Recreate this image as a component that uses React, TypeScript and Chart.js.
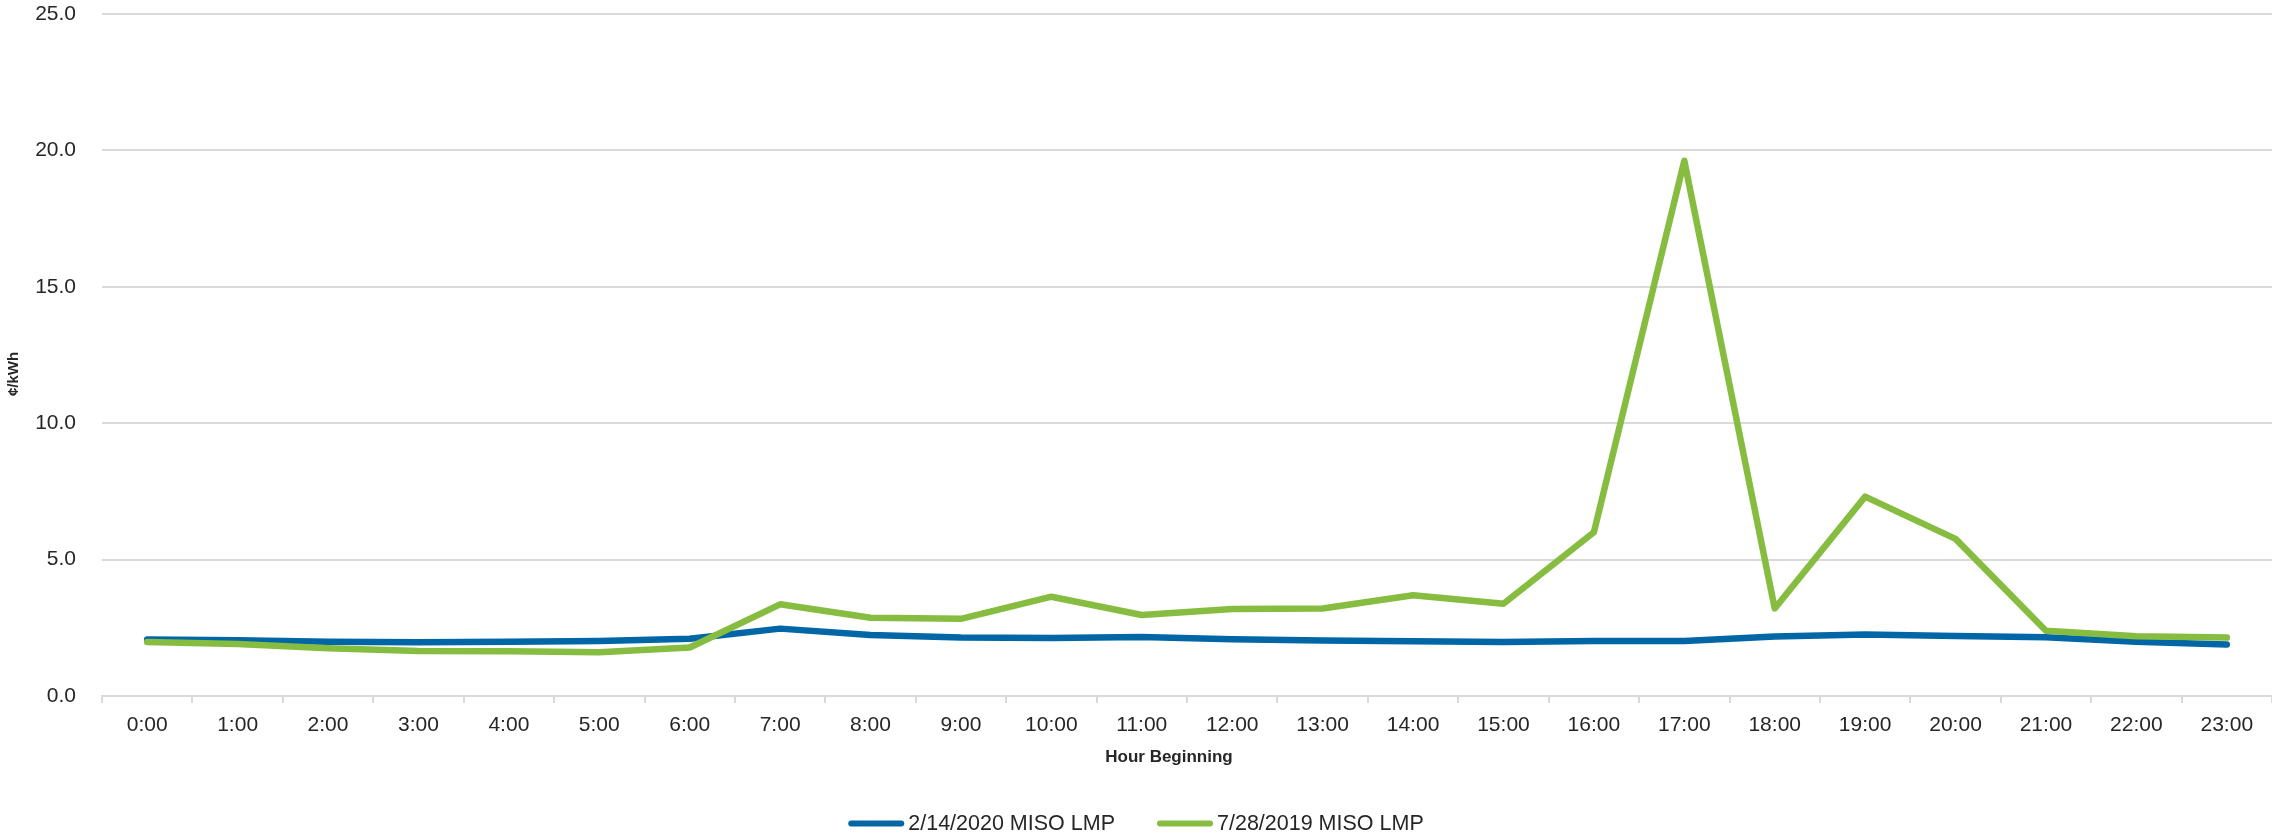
import React, { useEffect, useRef } from "react";
import { Chart, registerables } from "chart.js";

Chart.register(...registerables);

// Hour-beginning categories
const hours = [
  "0:00", "1:00", "2:00", "3:00", "4:00", "5:00", "6:00", "7:00",
  "8:00", "9:00", "10:00", "11:00", "12:00", "13:00", "14:00", "15:00",
  "16:00", "17:00", "18:00", "19:00", "20:00", "21:00", "22:00", "23:00",
];

// Locational marginal price, ¢/kWh
const lmpFeb2020 = [
  2.07, 2.04, 1.99, 1.97, 1.99, 2.02, 2.10, 2.47, 2.24, 2.14, 2.13, 2.16,
  2.08, 2.03, 2.01, 1.98, 2.02, 2.02, 2.18, 2.25, 2.20, 2.15, 1.99, 1.89,
];
const lmpJul2019 = [
  1.98, 1.91, 1.75, 1.65, 1.64, 1.60, 1.78, 3.36, 2.87, 2.83, 3.64, 2.97,
  3.19, 3.21, 3.69, 3.38, 6.00, 19.62, 3.21, 7.31, 5.76, 2.39, 2.19, 2.14,
];

const seriesLabels = ["2/14/2020 MISO LMP", "7/28/2019 MISO LMP"];
const seriesColors = ["#0066A6", "#86BD40"];
const xAxisTitle = "Hour Beginning";
const yAxisTitle = "¢/kWh";

const yMin = 0;
const yMax = 25;
const yStep = 5;

const FONT = '"Liberation Sans", Arial, sans-serif';
const TEXT = "#262626";
const GRID = "#d9d9d9";

// Axis titles placed beside the plot area
const axisTitles = {
  id: "axisTitles",
  afterDraw(chart: any) {
    const ctx = chart.ctx as CanvasRenderingContext2D;
    const area = chart.chartArea;
    ctx.save();
    ctx.fillStyle = TEXT;
    ctx.textAlign = "center";
    ctx.textBaseline = "middle";
    ctx.font = `bold 17px ${FONT}`;
    ctx.fillText(xAxisTitle, (area.left + area.right) / 2 - 18, 757);
    ctx.translate(14, (area.top + area.bottom) / 2 + 19);
    ctx.rotate(-Math.PI / 2);
    ctx.font = `bold 15px ${FONT}`;
    ctx.fillText(yAxisTitle, 0, 0);
    ctx.restore();
  },
};

// Centered legend row along the bottom edge
const bottomLegend = {
  id: "bottomLegend",
  afterDraw(chart: any) {
    const ctx = chart.ctx as CanvasRenderingContext2D;
    const boxW = 56;
    const boxH = 6;
    const textGap = 4;
    const itemGap = 42;
    const y = 823.5;
    ctx.save();
    ctx.font = `21.5px ${FONT}`;
    const items = chart.data.datasets.map((ds: any) => ({
      label: ds.label as string,
      color: ds.borderColor as string,
      w: boxW + textGap + ctx.measureText(ds.label).width,
    }));
    const total =
      items.reduce((s: number, it: any) => s + it.w, 0) + itemGap * (items.length - 1);
    let x = (chart.width - total) / 2;
    for (const it of items) {
      ctx.strokeStyle = it.color;
      ctx.lineWidth = boxH;
      ctx.lineCap = "round";
      ctx.beginPath();
      ctx.moveTo(x + boxH / 2, y);
      ctx.lineTo(x + boxW - boxH / 2, y);
      ctx.stroke();
      ctx.fillStyle = TEXT;
      ctx.textAlign = "left";
      ctx.textBaseline = "middle";
      ctx.fillText(it.label, x + boxW + textGap, y + 1);
      x += it.w + itemGap;
    }
    ctx.restore();
  },
};

export default function App() {
  const canvasRef = useRef<HTMLCanvasElement | null>(null);

  useEffect(() => {
    document.body.style.margin = "0";
    document.body.style.overflow = "hidden";
    const canvas = canvasRef.current;
    if (!canvas) return;

    const lineStyle = {
      borderWidth: 6.5,
      pointRadius: 0,
      borderCapStyle: "round" as const,
      borderJoinStyle: "round" as const,
      tension: 0,
    };

    const chart = new Chart(canvas, {
      type: "line",
      data: {
        labels: hours,
        datasets: [
          {
            label: seriesLabels[0],
            data: lmpFeb2020,
            borderColor: seriesColors[0],
            backgroundColor: seriesColors[0],
            order: 1,
            ...lineStyle,
          },
          {
            label: seriesLabels[1],
            data: lmpJul2019,
            borderColor: seriesColors[1],
            backgroundColor: seriesColors[1],
            order: 0,
            ...lineStyle,
          },
        ],
      },
      options: {
        responsive: false,
        animation: false,
        layout: { autoPadding: false, padding: { top: 14, right: 0, bottom: 0, left: 0 } },
        plugins: {
          legend: { display: false },
          tooltip: { enabled: false },
        },
        scales: {
          x: {
            type: "category",
            offset: true,
            grid: {
              display: true,
              drawOnChartArea: false,
              drawTicks: true,
              tickLength: 7,
              color: GRID,
              lineWidth: 2,
              offset: true,
            },
            border: { display: true, color: GRID, width: 2 },
            ticks: {
              color: TEXT,
              font: { family: FONT, size: 21 },
              padding: 10,
              maxRotation: 0,
              autoSkip: false,
            },
            afterFit(scale: any) {
              scale.height = 140;
              scale.paddingLeft = 0;
              scale.paddingRight = 0;
            },
          },
          y: {
            min: yMin,
            max: yMax,
            grid: {
              color: GRID,
              lineWidth: 2,
              drawTicks: false,
            },
            border: { display: false },
            ticks: {
              stepSize: yStep,
              color: TEXT,
              font: { family: FONT, size: 21 },
              padding: 26,
              callback: (v: any) => Number(v).toFixed(1),
            },
            afterFit(scale: any) {
              scale.width = 102;
              scale.paddingTop = 0;
              scale.paddingBottom = 0;
            },
          },
        },
      },
      plugins: [axisTitles, bottomLegend],
    });

    return () => chart.destroy();
  }, []);

  return (
    <div style={{ width: 2272, height: 836 }}>
      <canvas ref={canvasRef} width={2272} height={836} style={{ display: "block" }} />
    </div>
  );
}
